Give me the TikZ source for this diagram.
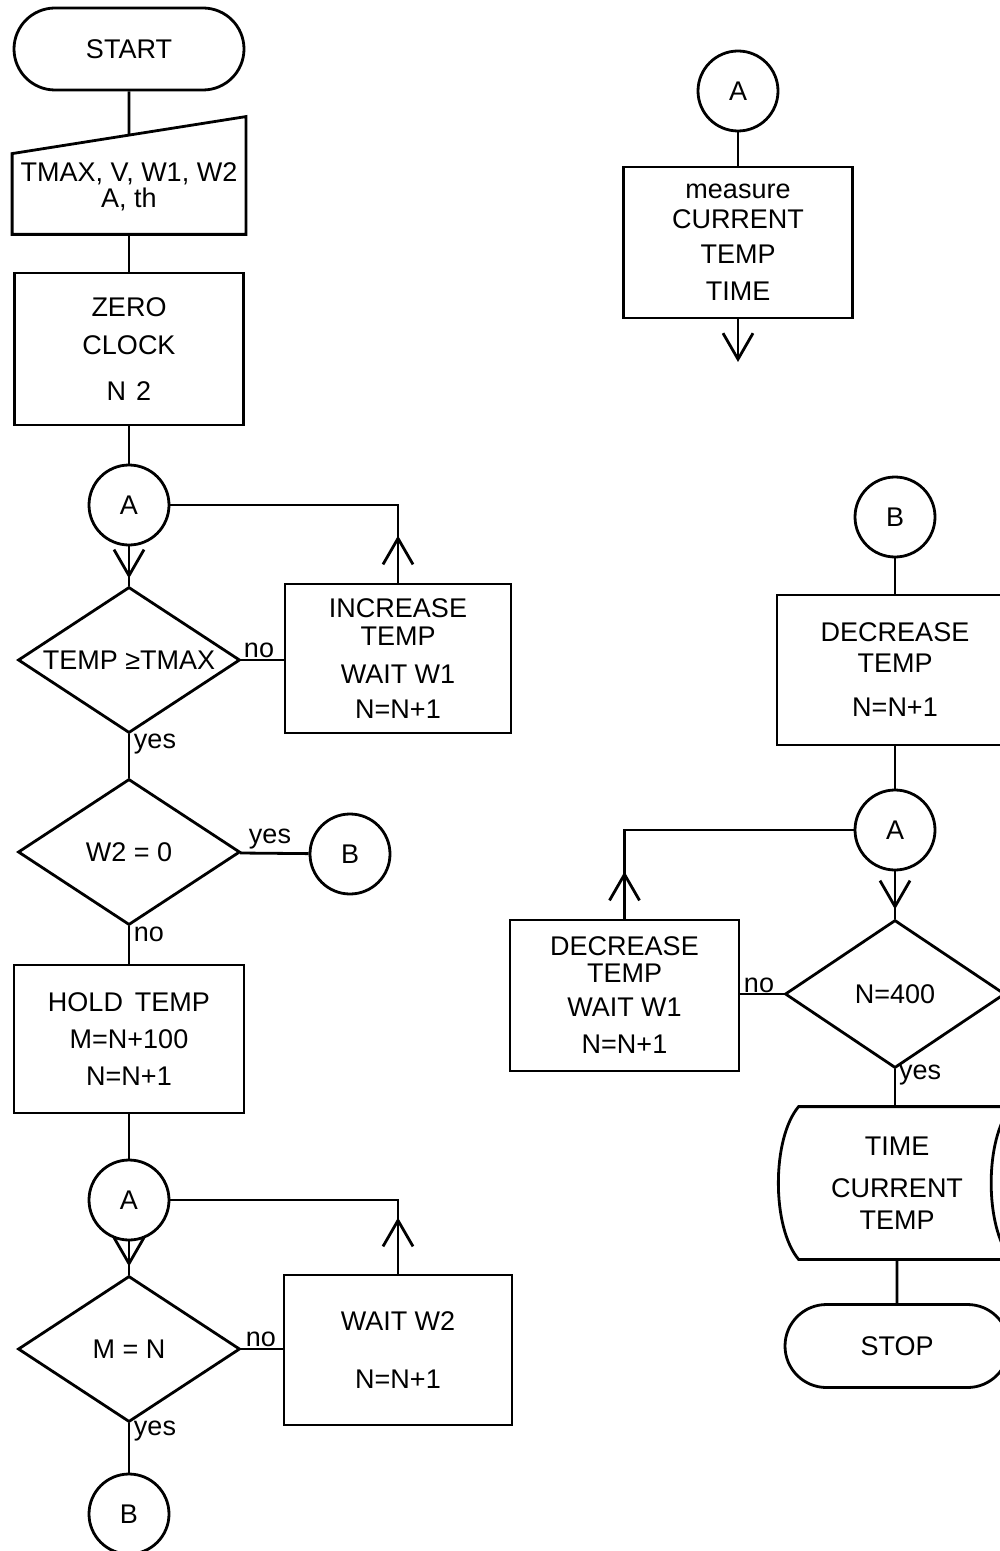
\documentclass[tikz,border=0pt]{standalone}
\usepackage{fontspec}
\setmainfont{Liberation Sans}
\usetikzlibrary{shapes.geometric,shapes.misc,arrows.meta,decorations.markings,calc}
\begin{document}
\begin{tikzpicture}[x=0.5pt,y=-0.5pt,
  every node/.style={font={\fontsize{13.5}{15}\selectfont}},
  flow/.style={line width=1.4pt},
  term/.style={rounded rectangle, draw, line width=1.4pt, inner sep=0pt, minimum height=41pt},
  proc/.style={rectangle, draw, line width=1.4pt, inner sep=0pt, align=center},
  decision/.style={diamond, draw, line width=1.4pt, inner sep=0pt, aspect=1.52, minimum width=111pt, minimum height=73pt},
  conn/.style={circle, draw, line width=1.4pt, inner sep=0pt, minimum size=40pt},
  lbl/.style={inner sep=0pt},
  vtip/.tip={Straight Barb[length=13pt,width=15pt]},
  midarrow/.style={postaction={decorate}, decoration={markings, mark=at position #1 with {\arrow{vtip}}}}]
\useasboundingbox (0,0) rectangle (1000,1551);
\clip (0,0) rectangle (1000,1551);

% ---------- left column ----------
\node[term, minimum width=115pt] (start) at (129,49) {START};
\node[proc, draw=none, minimum width=115.5pt, minimum height=46pt] (inp) at (129,187) {TMAX, V, W1, W2\\[-2pt]A, th};
\draw[flow] (inp.south west) -- (inp.south east) -- ($(inp.north east)+(0,-23)$) -- ($(inp.north west)+(0,14)$) -- cycle;
\coordinate (inptop) at ($(inp.north)+(0,-4.5)$);
\node[proc, minimum width=114.5pt, minimum height=76pt] (zero) at (129,349) {ZERO\\[4pt]CLOCK\\[8pt]N\hspace{5pt}2};
\node[conn] (A1) at (129,505) {A};
\node[decision] (d1) at (129,660) {TEMP ≥TMAX};
\node[proc, minimum width=113pt, minimum height=74.5pt] (inc) at (398,658.5) {INCREASE\\[-1pt]TEMP\\[4pt]WAIT W1\\[2.5pt]N=N+1};
\node[decision] (d2) at (129,852) {W2 = 0};
\node[conn] (B1) at (350,854) {B};
\node[proc, minimum width=115pt, minimum height=74pt] (hold) at (129,1039) {HOLD\hspace{6pt}TEMP\\[3.5pt]M=N+100\\[3.5pt]N=N+1};
\node[conn] (A2) at (129,1200) {A};
\node[decision] (d3) at (129,1349) {M = N};
\node[proc, minimum width=114pt, minimum height=75pt] (wait) at (398,1350) {WAIT W2\\[14pt]N=N+1};
\node[conn] (B2) at (129,1514) {B};

\node[lbl] (no1) at (259,650) {no};
\node[lbl] (yes1) at (155,744) {yes};
\node[lbl] (yes2) at (270,839) {yes};
\node[lbl] (no2) at (149,934) {no};
\node[lbl] (no3) at (261,1339) {no};
\node[lbl] (yes3) at (155,1431) {yes};

% ---------- right column ----------
\node[conn] (A3) at (738,91) {A};
\node[proc, minimum width=114.5pt, minimum height=75.5pt] (meas) at (738,242.5) {measure\\[0pt]CURRENT\\[2.5pt]TEMP\\[3.5pt]TIME};
\coordinate (measend) at (738,362);
\node[conn] (B3) at (895,517) {B};
\node[proc, minimum width=118pt, minimum height=75pt] (dec) at (895,670) {DECREASE\\[0.5pt]TEMP\\[7pt]N=N+1};
\node[conn] (A4) at (895,830) {A};
\node[decision, minimum width=110pt, minimum height=74pt] (d4) at (895,994) {N=400};
\node[proc, minimum width=114.5pt, minimum height=75.5pt] (decw) at (624.5,995.5) {DECREASE\\[-1.5pt]TEMP\\[2pt]WAIT W1\\[3.5pt]N=N+1};
\node[proc, draw=none, minimum width=90pt, minimum height=75pt] (store) at (897,1183) {TIME\\[6pt]CURRENT\\[1pt]TEMP};
\draw[flow] ($(store.south west)+(-7,0)$) .. controls ($(store.south west)+(-34,-32)$) and ($(store.north west)+(-34,32)$) .. ($(store.north west)+(-7,0)$)
  -- ($(store.north east)+(23,0)$) .. controls ($(store.north east)+(-4,32)$) and ($(store.south east)+(-4,-32)$) .. ($(store.south east)+(23,0)$) -- cycle;
\node[term, minimum width=112pt, minimum height=41.5pt] (stop) at (897,1346) {STOP};

\node[lbl] (no4) at (759,985) {no};
\node[lbl] (yes4) at (920,1075) {yes};

% ---------- connectors ----------
\draw[flow] (start) -- (inptop);
\draw[flow] (inp.south) -- (zero.north);
\draw[flow] (zero) -- (A1);
\draw[flow, midarrow=16pt] (A1) -- (d1);
\draw[flow] (d1.east) -- (inc.west |- d1.east);
\draw[flow, midarrow=23.5pt] (inc.north) |- (A1);
\draw[flow] (d1) -- (d2);
\draw[flow] (d2) -- (B1);
\draw[flow] (d2) -- (hold);
\draw[flow] (hold) -- (A2);
\draw[flow, midarrow=12.5pt] (A2) -- (d3);
\draw[flow, midarrow=28pt] (wait.north) |- (A2);
\draw[flow] (d3.east) -- (wait.west |- d3.east);
\draw[flow] (d3) -- (B2);

\draw[flow] (A3) -- (meas);
\draw[flow, -vtip] (meas.south) -- (measend);
\draw[flow] (B3) -- (dec);
\draw[flow] (dec) -- (A4);
\draw[flow, midarrow=19pt] (A4) -- (d4);
\draw[flow, midarrow=23.5pt] (decw.north) |- (A4);
\draw[flow] (d4.west) -- (decw.east |- d4.west);
\draw[flow] (d4) -- ($(store.north)+(-2,0)$);
\draw[flow] (store) -- (stop);
\end{tikzpicture}
\end{document}
